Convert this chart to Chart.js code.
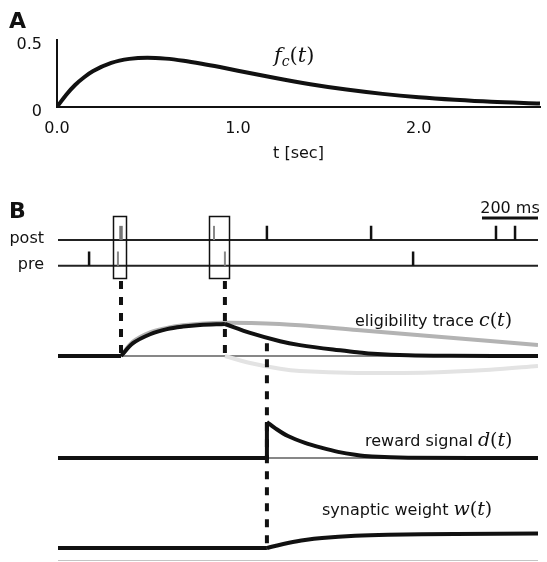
<!DOCTYPE html>
<html>
<head>
<meta charset="utf-8">
<script src="https://cdn.jsdelivr.net/npm/chart.js@4.4.1/dist/chart.umd.min.js"></script>
<style>
  body { margin: 0; background: #fff; }
  #wrap { position: relative; width: 547px; height: 562px; }
  canvas { position: absolute; left: 0; }
  #chartA { top: 0; }
  #chartB { top: 190px; }
</style>
</head>
<body>
<div id="wrap">
  <canvas id="chartA" width="547" height="190"></canvas>
  <canvas id="chartB" width="547" height="372"></canvas>
</div>
<script>
// ---- panel A: kernel f_c(t), t in seconds
const kernelT = [0, 0.05, 0.1, 0.15, 0.2, 0.3, 0.4, 0.5, 0.6, 0.7, 0.8, 0.9, 1.0, 1.2, 1.4, 1.6, 1.8, 2.0, 2.2, 2.4, 2.67];
const kernelV = [0, 0.09, 0.164, 0.222, 0.268, 0.329, 0.359, 0.368, 0.361, 0.345, 0.323, 0.298, 0.271, 0.218, 0.17, 0.13, 0.098, 0.073, 0.054, 0.039, 0.026];
const xTicksA = [0, 1, 2];
const yTicksA = [0, 0.5];

// ---- panel B: times in ms
const tEnd = 1714;
const scaleBarMs = 200;
const postPaired = [225, 557];
const postOther = [746, 1118, 1564, 1632];
const prePaired = [214, 596];
const preOther = [111, 1268];
const pairs = [[214, 225], [557, 596]];

// eligibility trace c(t) and its two components
const eligRiseT = [225, 268, 329, 389, 446, 507, 596];
const eligRiseV = [0, 0.4, 0.68, 0.84, 0.92, 0.97, 1.0];
const eligDecayT = [596, 686, 793, 864, 982, 1068, 1125, 1250, 1400, 1714];
const eligDecayV = [1.0, 0.72, 0.46, 0.34, 0.2, 0.12, 0.07, 0.02, 0.005, 0];
const ltpT = [225, 268, 329, 389, 446, 507, 596, 686, 864, 1068, 1304, 1543, 1714];
const ltpV = [0, 0.45, 0.74, 0.88, 0.96, 1.01, 1.04, 1.03, 0.96, 0.81, 0.64, 0.47, 0.34];
const ltdT = [596, 686, 793, 864, 1068, 1304, 1543, 1714];
const ltdV = [0, -0.22, -0.4, -0.47, -0.53, -0.52, -0.43, -0.31];

// reward d(t) and weight w(t)
const rewardT = [746, 775, 821, 882, 943, 1000, 1061, 1121, 1250, 1714];
const rewardV = [1, 0.83, 0.61, 0.42, 0.28, 0.17, 0.09, 0.04, 0.005, 0];
const weightT = [746, 775, 821, 882, 943, 1061, 1179, 1418, 1714];
const weightV = [0, 0.14, 0.34, 0.55, 0.69, 0.84, 0.91, 0.97, 1.0];

Chart.defaults.font.family = '"DejaVu Sans", sans-serif';
Chart.defaults.color = '#111';

const SANS = '"DejaVu Sans", sans-serif';
const SERIF = '"DejaVu Serif", serif';

// draws a run of text pieces: [text, font, dy]
function richText(ctx, x, y, parts) {
  parts.forEach(([txt, font, dy]) => {
    ctx.font = font;
    ctx.fillText(txt, x, y + (dy || 0));
    x += ctx.measureText(txt).width;
  });
}
const mathSym = (letter) => [
  [letter, 'italic 19px ' + SERIF],
  ['(', '19px ' + SERIF],
  ['t', 'italic 19px ' + SERIF],
  [')', '19px ' + SERIF]
];

const xy = (ts, vs) => ts.map((t, i) => ({ x: t, y: vs[i] }));

// ---------------- panel A
const labelsA = {
  id: 'labelsA',
  afterDraw(chart) {
    const ctx = chart.ctx;
    ctx.save();
    ctx.fillStyle = '#111';
    ctx.textBaseline = 'alphabetic';
    ctx.font = 'bold 22px ' + SANS;
    ctx.fillText('A', 9, 28);
    richText(ctx, 274, 62, [
      ['f', 'italic 21px ' + SERIF],
      ['c', 'italic 14px ' + SERIF, 4],
      ['(', '21px ' + SERIF],
      ['t', 'italic 21px ' + SERIF],
      [')', '21px ' + SERIF]
    ]);
    ctx.restore();
  }
};

new Chart(document.getElementById('chartA'), {
  type: 'line',
  data: {
    datasets: [{
      data: xy(kernelT, kernelV),
      borderColor: '#111',
      borderWidth: 4,
      pointRadius: 0,
      fill: false,
      cubicInterpolationMode: 'monotone'
    }]
  },
  options: {
    responsive: false,
    animation: false,
    layout: { padding: { left: 0, right: 7, top: 40, bottom: 0 } },
    plugins: { legend: { display: false }, tooltip: { enabled: false } },
    scales: {
      x: {
        type: 'linear', min: 0, max: 2.67,
        afterBuildTicks: s => { s.ticks = xTicksA.map(v => ({ value: v })); },
        afterFit: s => { s.height = 83; },
        grid: { drawOnChartArea: false, drawTicks: false },
        border: { display: true, color: '#111', width: 2 },
        ticks: { callback: v => v.toFixed(1), font: { size: 16 }, padding: 12, maxRotation: 0 },
        title: { display: true, text: 't [sec]', font: { size: 16 }, padding: { top: 0, bottom: 27 } }
      },
      y: {
        type: 'linear', min: 0, max: 0.5,
        afterBuildTicks: s => { s.ticks = yTicksA.map(v => ({ value: v })); },
        afterFit: s => { s.width = 57; },
        grid: { drawOnChartArea: false, drawTicks: false },
        border: { display: true, color: '#111', width: 2 },
        ticks: { callback: v => (v === 0 ? '0' : String(v)), font: { size: 16 }, padding: 15, labelOffset: 5 }
      }
    }
  },
  plugins: [labelsA]
});

// ---------------- panel B
const B_TOP = 190, B_BOTTOM = 562;
// a hidden y axis whose zero sits at page y0, unitPx pixels per unit
function band(y0, unitPx) {
  return { type: 'linear', display: false, min: -(B_BOTTOM - y0) / unitPx, max: (y0 - B_TOP) / unitPx };
}
const SPIKE_H = 0.55;
const spikeLine = (times, row) => times.flatMap(t => [{ x: t, y: row }, { x: t, y: row + SPIKE_H }, { x: t, y: null }]);

const line = (data, yAxisID, color, width, smooth) => ({
  data, yAxisID,
  borderColor: color,
  borderWidth: width,
  pointRadius: 0,
  fill: false,
  spanGaps: false,
  tension: smooth ? 0.35 : 0
});

const annotB = {
  id: 'annotB',
  afterDatasetsDraw(chart) {
    const { ctx, chartArea } = chart;
    const { x, yS, yC, yW } = chart.scales;
    const seg = (x1, y1, x2, y2) => { ctx.beginPath(); ctx.moveTo(x1, y1); ctx.lineTo(x2, y2); ctx.stroke(); };
    ctx.save();
    ctx.strokeStyle = '#111';
    ctx.fillStyle = '#111';

    // boxes round the spike pairs
    ctx.lineWidth = 1.5;
    const boxTop = yS.getPixelForValue(1.93), boxBot = yS.getPixelForValue(-0.48);
    pairs.forEach(p => {
      const l = x.getPixelForValue(Math.min(...p)) - 4.5;
      const r = x.getPixelForValue(Math.max(...p)) + 5;
      ctx.strokeRect(Math.round(l) + 0.5, Math.round(boxTop) + 0.5, Math.round(r - l), Math.round(boxBot - boxTop));
    });

    // dashed markers
    ctx.lineWidth = 4;
    ctx.setLineDash([8, 8]);
    pairs.forEach(p => {
      const px = x.getPixelForValue(Math.max(...p));
      seg(px, boxBot + 3, px, yC.getPixelForValue(0));
    });
    const rx = x.getPixelForValue(rewardT[0]);
    seg(rx, yC.getPixelForValue(0.4), rx, yW.getPixelForValue(0));
    ctx.setLineDash([]);

    // scale bar
    ctx.lineWidth = 3;
    const bx1 = x.getPixelForValue(tEnd - scaleBarMs), bx2 = x.getPixelForValue(tEnd);
    seg(bx1, 28, bx2, 28);
    ctx.font = '16px ' + SANS;
    ctx.textAlign = 'center';
    ctx.fillText(scaleBarMs + ' ms', (bx1 + bx2) / 2, 23);

    // bottom rule
    ctx.strokeStyle = '#c4c4c4';
    ctx.lineWidth = 1;
    seg(chartArea.left, chartArea.bottom - 1.5, chartArea.right, chartArea.bottom - 1.5);

    // labels
    ctx.textAlign = 'left';
    ctx.font = 'bold 22px ' + SANS;
    ctx.fillText('B', 9, 28);
    ctx.font = '16px ' + SANS;
    ctx.textAlign = 'right';
    ctx.textBaseline = 'middle';
    ctx.fillText('post', 44, yS.getPixelForValue(1) - 1);
    ctx.fillText('pre', 44, yS.getPixelForValue(0) - 1);
    ctx.textAlign = 'left';
    ctx.textBaseline = 'alphabetic';
    richText(ctx, 355, 136, [['eligibility trace ', '16px ' + SANS], ...mathSym('c')]);
    richText(ctx, 365, 256, [['reward signal ', '16px ' + SANS], ...mathSym('d')]);
    richText(ctx, 322, 325, [['synaptic weight ', '16px ' + SANS], ...mathSym('w')]);
    ctx.restore();
  }
};

new Chart(document.getElementById('chartB'), {
  type: 'line',
  data: {
    datasets: [
      // black traces on top
      line(xy([0, eligRiseT[0]], [0, 0]), 'yC', '#111', 4),
      line(xy(eligRiseT, eligRiseV), 'yC', '#111', 4, true),
      line(xy(eligDecayT, eligDecayV), 'yC', '#111', 4, true),
      line([{ x: 0, y: 0 }, { x: rewardT[0], y: 0 }, { x: rewardT[0], y: rewardV[0] }], 'yD', '#111', 4),
      line(xy(rewardT, rewardV), 'yD', '#111', 4, true),
      line(xy([0, weightT[0]], [0, 0]), 'yW', '#111', 4),
      line(xy(weightT, weightV), 'yW', '#111', 4, true),
      // spike raster
      line(spikeLine(postOther, 1), 'yS', '#111', 2.5),
      line(spikeLine(preOther, 0), 'yS', '#111', 2.5),
      line(spikeLine(postPaired.slice(0, 1), 1), 'yS', '#777', 3.5),
      line(spikeLine(postPaired.slice(1), 1), 'yS', '#888', 2),
      line(spikeLine(prePaired, 0), 'yS', '#888', 2),
      line(xy([0, tEnd], [1, 1]), 'yS', '#222', 2),
      line(xy([0, tEnd], [0, 0]), 'yS', '#222', 2),
      // eligibility components in grey
      line(xy(ltpT, ltpV), 'yC', '#b3b3b3', 4, true),
      line(xy(ltdT, ltdV), 'yC', '#e3e3e3', 4, true),
      // thin baselines
      line(xy([eligRiseT[0], tEnd], [0, 0]), 'yC', '#111', 1.2),
      line(xy([rewardT[0], tEnd], [0, 0]), 'yD', '#111', 1.2)
    ]
  },
  options: {
    responsive: false,
    animation: false,
    layout: { padding: { left: 58, right: 9, top: 0, bottom: 0 } },
    plugins: { legend: { display: false }, tooltip: { enabled: false } },
    scales: {
      x: { type: 'linear', display: false, min: 0, max: tEnd },
      yS: band(265.7, 25.7),
      yC: band(356, 32),
      yD: band(458, 36),
      yW: band(548, 14.5)
    }
  },
  plugins: [annotB]
});
</script>
</body>
</html>
